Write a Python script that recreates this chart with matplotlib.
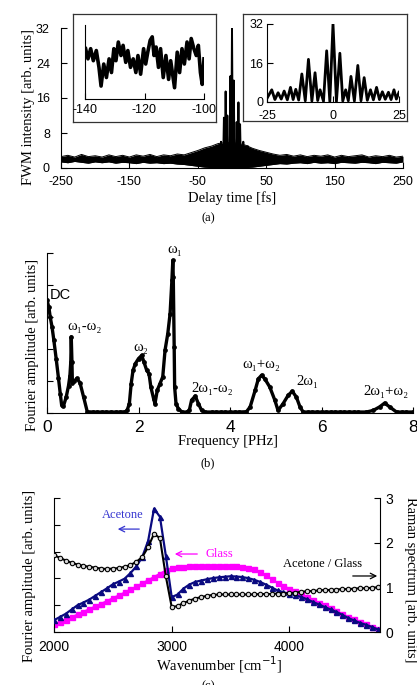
import numpy as np
import matplotlib
matplotlib.use('Agg')
import matplotlib.pyplot as plt

W, H = 417, 685
SANS = 'Liberation Sans'
SERIF = ['Liberation Serif', 'DejaVu Serif']
plt.rcParams['font.family'] = SANS
plt.rcParams['axes.unicode_minus'] = False

# ---------------- (a) FWM trace ----------------
bg_t = np.arange(-250, 251, 10)
bg_hi = [2.6, 2.9, 2.5, 3.1, 2.6, 2.8, 2.5, 3.0, 2.6, 2.9,
         2.5, 3.0, 2.7, 3.1, 2.6, 3.0, 2.8, 3.2, 3.0, 3.5,
         4.0, 4.6, 5.0, 5.6, 5.8, 5.8, 5.6, 5.2, 4.5, 4.0,
         3.6, 3.2, 2.9, 3.1, 2.7, 3.0, 2.6, 2.9, 2.7, 3.0,
         2.5, 2.9, 2.6, 2.8, 3.0, 2.5, 2.8, 2.6, 2.9, 2.5, 2.7]
bg_lo = [1.4, 1.2, 1.5, 1.3, 1.1, 1.4, 1.2, 1.4, 1.1, 1.3,
         1.2, 1.0, 1.3, 1.1, 1.2, 1.0, 1.1, 0.9, 0.8, 0.6,
         0.4, 0.2, 0.1, 0.0, 0.0, 0.0, 0.0, 0.1, 0.2, 0.4,
         0.6, 0.8, 1.0, 0.9, 1.1, 1.2, 1.0, 1.3, 1.1, 1.2,
         1.0, 1.3, 1.2, 1.1, 1.3, 1.2, 1.0, 1.3, 1.2, 1.1, 1.4]

osc_t = [-25.0, -23.2, -22.0, -20.8, -19.6, -18.5, -17.3, -16.1, -15.1, -14.1,
         -13.0, -11.8, -10.5, -9.3, -8.0, -6.8, -5.8, -4.9, -3.6, -2.4,
         -1.2, 0.0, 1.3, 2.6, 3.7, 4.8, 5.8, 6.8, 8.1, 9.4,
         10.6, 11.8, 13.0, 14.2, 15.3, 16.5, 17.6, 18.7, 19.8, 21.0,
         22.0, 23.1, 24.0, 25.0]
osc_v = [1.5, 5.0, 1.0, 3.8, 1.2, 4.5, 0.9, 6.0, 1.0, 5.2,
         0.8, 11.5, 0.5, 17.5, 0.4, 12.0, 0.6, 5.0, 0.3, 21.0,
         0.2, 32.0, 0.2, 20.0, 0.4, 5.0, 0.5, 10.5, 0.4, 15.0,
         0.5, 10.0, 0.7, 5.0, 0.9, 6.0, 1.0, 4.2, 1.1, 4.0,
         1.0, 5.0, 1.2, 4.0]

ins1_t = [-139.8, -139.0, -138.1, -137.2, -136.2, -135.3, -134.6, -133.7, -132.8, -131.9,
          -131.1, -130.3, -129.6, -128.8, -127.9, -127.2, -126.3, -125.6, -124.7, -123.8,
          -122.9, -122.2, -121.3, -120.3, -119.6, -118.9, -118.1, -117.4, -116.8, -116.1,
          -115.3, -114.6, -113.7, -112.8, -111.9, -111.2, -109.9, -109.0, -108.2, -107.4,
          -106.6, -105.7, -105.0, -104.3, -103.4, -102.6, -101.9, -101.2, -100.6, -100.0]
ins1_v = [2.72, 2.17, 2.72, 2.07, 2.62, 1.71, 0.70, 1.89, 1.16, 2.17,
          1.43, 2.72, 2.07, 3.08, 2.35, 2.90, 1.98, 2.62, 1.71, 2.17,
          1.43, 2.35, 1.34, 2.72, 1.89, 2.53, 3.17, 3.36, 2.35, 2.81,
          1.71, 2.72, 1.16, 2.35, 1.06, 2.07, 0.61, 2.53, 1.43, 2.72,
          1.89, 3.08, 2.17, 3.27, 2.72, 2.35, 2.90, 1.43, 0.79, 2.17]

# ---------------- (b) Fourier spectrum ----------------
b_freq = [0.00, 0.04, 0.07, 0.11, 0.15, 0.20, 0.25, 0.29, 0.32, 0.36,
          0.42, 0.47, 0.50, 0.52, 0.53, 0.545, 0.555, 0.60, 0.65, 0.72,
          0.80, 0.88, 1.0, 1.1, 1.2, 1.3, 1.4, 1.5, 1.6, 1.71,
          1.75, 1.80, 1.84, 1.88, 1.93, 2.00, 2.07, 2.12, 2.18, 2.23,
          2.27, 2.33, 2.36, 2.41, 2.47, 2.53, 2.58, 2.64, 2.69, 2.73,
          2.75, 2.76, 2.78, 2.79, 2.82, 2.87, 2.95, 3.05, 3.11, 3.16,
          3.24, 3.31, 3.38, 3.45, 3.6, 3.7, 3.8, 3.9, 4.0, 4.1,
          4.2, 4.36, 4.44, 4.55, 4.62, 4.69, 4.76, 4.87, 4.98, 5.05,
          5.16, 5.27, 5.36, 5.45, 5.53, 5.60, 5.7, 5.8, 5.9, 6.0,
          6.1, 6.2, 6.3, 6.4, 6.5, 6.6, 6.7, 6.8, 6.98, 7.13,
          7.27, 7.38, 7.49, 7.64, 7.75, 7.85, 8.0]
b_amp = [3.52, 3.31, 3.00, 2.69, 2.27, 1.70, 1.10, 0.60, 0.25, 0.22,
         0.50, 0.85, 1.15, 1.60, 2.38, 1.60, 0.95, 1.00, 1.08, 0.95,
         0.50, 0.04, 0.03, 0.03, 0.03, 0.03, 0.03, 0.03, 0.03, 0.04,
         0.08, 0.29, 0.92, 1.33, 1.54, 1.70, 1.80, 1.59, 1.33, 1.23,
         0.81, 0.45, 0.29, 0.71, 0.92, 1.13, 1.96, 2.48, 3.10, 4.15,
         4.77, 4.25, 2.06, 0.81, 0.29, 0.14, 0.03, 0.03, 0.08, 0.40,
         0.53, 0.29, 0.08, 0.03, 0.03, 0.03, 0.03, 0.03, 0.03, 0.03,
         0.03, 0.04, 0.19, 0.71, 1.07, 1.18, 1.07, 0.81, 0.40, 0.08,
         0.29, 0.55, 0.68, 0.50, 0.19, 0.03, 0.03, 0.03, 0.03, 0.03,
         0.03, 0.03, 0.03, 0.03, 0.03, 0.03, 0.03, 0.03, 0.03, 0.08,
         0.19, 0.31, 0.19, 0.03, 0.03, 0.03, 0.03]
b_labels = ['DC', 'ω₁', 'ω₁-ω₂', 'ω₂', '2ω₁-ω₂', 'ω₁+ω₂', '2ω₁', '2ω₁+ω₂']
b_label_x = [0.07, 2.80, 0.82, 2.05, 3.60, 4.69, 5.70, 7.41]
b_label_y = [3.69, 5.12, 2.69, 2.06, 0.75, 1.53, 0.97, 0.66]

# ---------------- (c) Raman comparison ----------------
wn = np.arange(2000, 4751, 50)
acetone = [0.44, 0.56, 0.68, 0.84, 1.00, 1.10, 1.21, 1.35, 1.49, 1.63,
           1.78, 1.88, 1.99, 2.20, 2.45, 2.80, 3.40, 4.60, 4.30, 2.85,
           1.30, 1.40, 1.62, 1.77, 1.87, 1.92, 1.97, 2.01, 2.04, 2.06,
           2.08, 2.07, 2.05, 2.01, 1.95, 1.87, 1.77, 1.66, 1.55, 1.48,
           1.43, 1.37, 1.31, 1.22, 1.12, 1.03, 0.93, 0.84, 0.75, 0.64,
           0.52, 0.43, 0.34, 0.27, 0.19, 0.10]
glass = [0.29, 0.37, 0.46, 0.56, 0.66, 0.76, 0.86, 0.96, 1.06, 1.16,
         1.27, 1.37, 1.48, 1.59, 1.70, 1.82, 1.94, 2.06, 2.18, 2.30,
         2.38, 2.42, 2.44, 2.45, 2.46, 2.46, 2.47, 2.47, 2.46, 2.46,
         2.45, 2.45, 2.43, 2.40, 2.34, 2.24, 2.11, 1.97, 1.84, 1.72,
         1.62, 1.52, 1.42, 1.32, 1.21, 1.10, 0.99, 0.88, 0.77, 0.67,
         0.57, 0.47, 0.38, 0.29, 0.20, 0.12]
ratio = [1.72, 1.66, 1.60, 1.55, 1.51, 1.48, 1.46, 1.44, 1.42, 1.41,
         1.42, 1.43, 1.46, 1.50, 1.57, 1.68, 1.90, 2.20, 2.10, 1.25,
         0.56, 0.58, 0.65, 0.70, 0.75, 0.78, 0.81, 0.83, 0.84, 0.84,
         0.84, 0.84, 0.84, 0.84, 0.84, 0.85, 0.85, 0.85, 0.86, 0.86,
         0.87, 0.88, 0.90, 0.91, 0.92, 0.93, 0.94, 0.94, 0.95, 0.96,
         0.96, 0.97, 0.98, 0.98, 0.99, 1.00]


def rect(l, t, r, b):
    return [l / W, 1 - b / H, (r - l) / W, (b - t) / H]


def ftext(x, y, s, **kw):
    fig.text(x / W, 1 - y / H, s, ha='center', va='center', **kw)


def style(ax, size, pad, sides=('left', 'bottom')):
    for k, sp in ax.spines.items():
        sp.set_visible(k in sides)
        sp.set_linewidth(0.8)
    ax.tick_params(direction='in', length=4, width=0.8, labelsize=size, pad=pad)
    ax.patch.set_alpha(0)


fig = plt.figure(figsize=(W / 100, H / 100), dpi=100)

# (a) main
ax = fig.add_axes(rect(61, 28, 403, 168))
ax.fill_between(bg_t, bg_lo, bg_hi, color='k', lw=0)
ax.plot(bg_t, bg_hi, color='k', lw=0.7)
ax.plot(bg_t, bg_lo, color='k', lw=0.7)
ax.plot(osc_t, osc_v, color='k', lw=1.4)
ax.set_xlim(-250, 250)
ax.set_ylim(0, 32)
ax.set_xticks([-250, -150, -50, 50, 150, 250])
ax.set_yticks([0, 8, 16, 24, 32])
style(ax, 9, 6)
ax.tick_params(axis='y', pad=8)
ftext(232, 198, 'Delay time [fs]', family=SERIF, fontsize=10.5)
ftext(29, 107, 'FWM intensity [arb. units]', family=SERIF, fontsize=10.5, rotation=90)
ftext(208, 218, '(a)', family=SERIF, fontsize=9)

# inset frames
for box in [(73, 14, 216, 122), (243, 14, 407, 121)]:
    fr = fig.add_axes(rect(*box))
    fr.set_xticks([])
    fr.set_yticks([])
    for sp in fr.spines.values():
        sp.set_linewidth(0.9)
        sp.set_color('#333333')

ax1 = fig.add_axes(rect(85, 25, 204, 99))
ax1.plot(ins1_t, ins1_v, color='k', lw=2.6)
ax1.set_xlim(-140, -100)
ax1.set_ylim(0, 4)
ax1.set_xticks([-140, -120, -100])
ax1.set_yticks([])
style(ax1, 9, 3.5)

ax2 = fig.add_axes(rect(267, 24, 399, 102))
ax2.plot(osc_t, osc_v, color='k', lw=2)
ax2.set_xlim(-25, 25)
ax2.set_ylim(0, 32)
ax2.set_xticks([-25, 0, 25])
ax2.set_yticks([0, 16, 32])
style(ax2, 9, 2.5)
ax2.tick_params(axis='x', pad=6)

# (b)
bx = fig.add_axes(rect(47, 253, 413, 413))
bx.plot(b_freq, b_amp, color='k', lw=2.4, marker='o', ms=2.4)
bx.set_xlim(0, 8)
bx.set_ylim(0, 5)
bx.set_xticks([0, 2, 4, 6, 8])
bx.set_yticks([0, 1, 2, 3, 4, 5])
bx.set_yticklabels([])
style(bx, 12.5, 5)
for s, x, y in zip(b_labels, b_label_x, b_label_y):
    fam = SANS if s == 'DC' else SERIF
    bx.text(x, y, s, ha='left' if s == 'DC' else 'center', va='center',
            family=fam, fontsize=10.5, clip_on=False)
ftext(228, 441, 'Frequency [PHz]', family=SERIF, fontsize=10.5)
ftext(33, 345, 'Fourier amplitude [arb. units]', family=SERIF, fontsize=10.5, rotation=90)
ftext(208, 463, '(b)', family=SERIF, fontsize=9)

# (c)
cx = fig.add_axes(rect(54, 498, 380, 632))
cr = cx.twinx()
cx.plot(wn, glass, color='#ff00ff', lw=1.2, marker='s', ms=3.6, zorder=2)
cx.plot(wn, acetone, color='#0a0a80', lw=1.6, marker='^', ms=3.6, zorder=3)
cr.plot(wn, ratio, color='k', lw=1.5, marker='o', ms=3.2, mfc='#d8d8d8', mew=0.8)
cx.set_xlim(2000, 4770)
cx.set_ylim(0, 5)
cr.set_ylim(0, 3)
cx.set_xticks([2000, 3000, 4000])
cx.set_yticks([0, 1, 2, 3, 4, 5])
cx.set_yticklabels([])
cr.set_yticks([0, 1, 2, 3])
style(cx, 10, 6)
style(cr, 10, 4, sides=('right',))
cx.text(2586, 4.37, 'Acetone', color='#3535d0', family=SERIF, fontsize=9, ha='center', va='center')
cx.annotate('', xy=(2518, 3.84), xytext=(2748, 3.84),
            arrowprops=dict(arrowstyle='->', color='#3535d0', lw=0.9))
cx.text(3402, 2.91, 'Glass', color='#ff00ff', family=SERIF, fontsize=9, ha='center', va='center')
cx.annotate('', xy=(3003, 2.91), xytext=(3241, 2.91),
            arrowprops=dict(arrowstyle='->', color='#ff00ff', lw=0.9))
cx.text(4278, 2.54, 'Acetone / Glass', color='k', family=SERIF, fontsize=9, ha='center', va='center')
cx.annotate('', xy=(4770, 2.09), xytext=(4515, 2.09),
            arrowprops=dict(arrowstyle='->', color='k', lw=0.9), annotation_clip=False)
ftext(219, 665, 'Wavenumber [cm$^{-1}$]', family=SERIF, fontsize=10.5)
ftext(30, 576, 'Fourier amplitude [arb. units]', family=SERIF, fontsize=10.5, rotation=90)
ftext(411, 580, 'Raman spectrum [arb. units]', family=SERIF, fontsize=10.5, rotation=-90)
ftext(208, 686, '(c)', family=SERIF, fontsize=9)

fig.savefig('out.png', dpi=100)
